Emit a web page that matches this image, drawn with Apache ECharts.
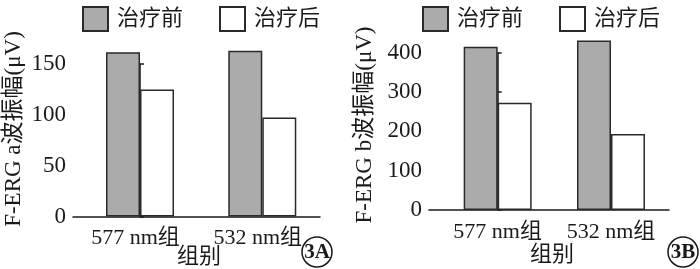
<!DOCTYPE html>
<html><head><meta charset="utf-8">
<script src="https://cdn.jsdelivr.net/npm/echarts@6/dist/echarts.min.js"></script>
<style>html,body{margin:0;padding:0;background:#fff}#c{width:700px;height:269px}</style>
</head><body><div id="c"></div>
<script>
const categories = ['577 nm组', '532 nm组'];
const seriesNames = ['治疗前', '治疗后'];
const aBefore = [161.5, 163];
const aAfter = [125, 97.5];
const bBefore = [415, 431];
const bAfter = [273, 193];
const aTicks = [0, 50, 100, 150];
const bTicks = [0, 100, 200, 300, 400];
const yNameA = 'F-ERG a波振幅(μV)';
const yNameB = 'F-ERG b波振幅(μV)';
const xName = '组别';
const panelTags = ['3A', '3B'];

const FONT = '"Liberation Serif", "Noto Sans CJK SC", serif';
const INK = '#1a1a1a';
const GRAY = '#ababab';

const chart = echarts.init(document.getElementById('c'), null, {renderer: 'canvas'});
const pairs = arr => arr.map((v, i) => [i, v]);

function xAx(gi, min, max, pad) {
  return {
    type: 'value', gridIndex: gi, min: min, max: max,
    splitLine: {show: false},
    axisLine: {show: true, lineStyle: {color: INK, width: 1.5}},
    axisTick: {show: false, customValues: [0, 1]},
    axisLabel: {
      customValues: [0, 1],
      formatter: function (v) { return categories[Math.round(Number(v))] || ''; },
      fontFamily: FONT, fontSize: 22, color: INK, margin: 11, padding: pad
    }
  };
}
function yAx(gi, ticks) {
  return {
    type: 'value', gridIndex: gi, min: ticks[0], max: ticks[ticks.length - 1],
    interval: ticks[1] - ticks[0],
    splitLine: {show: false},
    axisLine: {show: true, lineStyle: {color: INK, width: 1.5}},
    axisTick: {show: true, inside: true, length: 4, lineStyle: {color: INK, width: 1.5}},
    axisLabel: {fontFamily: FONT, fontSize: 23, color: INK, margin: 7}
  };
}
function barS(name, gi, data, color) {
  return {
    type: 'bar', name: name, xAxisIndex: gi, yAxisIndex: gi,
    data: pairs(data), barWidth: 34, barGap: '0%', clip: false,
    itemStyle: {color: color, borderColor: '#2a2a2a', borderWidth: 1.5},
    emphasis: {disabled: true}
  };
}
function legendAt(left) {
  return {
    left: left, top: 1, itemWidth: 25, itemHeight: 24, itemGap: 36,
    icon: 'rect', selectedMode: false,
    textStyle: {fontFamily: FONT, fontSize: 22, color: INK, padding: [0, 0, 0, 4]},
    data: seriesNames
  };
}
function txt(x, y, text, rot, size) {
  return {
    type: 'text', x: x, y: y, rotation: rot || 0, silent: true,
    style: {text: text, font: (size || 22) + 'px ' + FONT, fill: INK,
      textAlign: 'center', textVerticalAlign: 'middle'}
  };
}
function tag(cx, cy, text) {
  return [
    {type: 'circle', shape: {cx: cx, cy: cy, r: 15}, silent: true,
      style: {fill: '#fff', stroke: INK, lineWidth: 1.5}},
    {type: 'text', x: cx, y: cy + 1, silent: true,
      style: {text: text, font: 'bold 21px ' + FONT, fill: INK,
        textAlign: 'center', textVerticalAlign: 'middle'}}
  ];
}

chart.setOption({
  animation: false,
  backgroundColor: '#fff',
  legend: [legendAt(77), legendAt(417)],
  grid: [
    {left: 73, right: 380, top: 64, bottom: 52.5},
    {left: 429, right: 31, top: 52.7, bottom: 59}
  ],
  xAxis: [xAx(0, -0.548, 1.472, [0, 9, 0, 0]), xAx(1, -0.606, 1.512, 0)],
  yAxis: [yAx(0, aTicks), yAx(1, bTicks)],
  series: [
    barS(seriesNames[0], 0, aBefore, GRAY),
    barS(seriesNames[1], 0, aAfter, '#ffffff'),
    barS(seriesNames[0], 1, bBefore, GRAY),
    barS(seriesNames[1], 1, bAfter, '#ffffff')
  ],
  graphic: [
    txt(14, 129, yNameA, Math.PI / 2, 23),
    txt(365, 125, yNameB, Math.PI / 2, 23),
    txt(199, 257, xName),
    txt(552, 255, xName)
  ].concat(tag(317, 252, panelTags[0])).concat(tag(683, 252, panelTags[1]))
});
</script></body></html>
